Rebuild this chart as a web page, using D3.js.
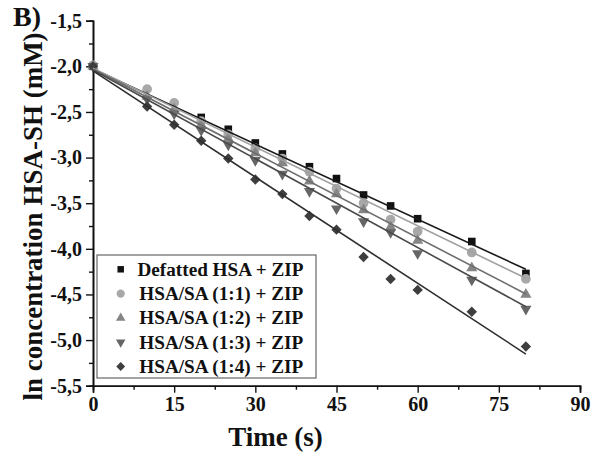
<!DOCTYPE html>
<html>
<head>
<meta charset="utf-8">
<script src="https://cdn.jsdelivr.net/npm/d3@7"></script>
<style>
  html, body { margin: 0; padding: 0; background: #fff; }
  svg text { font-family: "Liberation Serif", "Times New Roman", serif; font-weight: bold; fill: #111; }
</style>
</head>
<body>
<svg id="chart" width="605" height="456"></svg>
<script>
// Time points (s) for each series
const timeFull = [0, 10, 15, 20, 25, 30, 35, 40, 45, 50, 55, 60, 70, 80];
const timeDefatted = [0, 20, 25, 30, 35, 40, 45, 50, 55, 60, 70, 80];

// ln concentration of HSA-SH (mM)
const defattedHSA = [-2.00, -2.56, -2.69, -2.84, -2.96, -3.10, -3.23, -3.41, -3.53, -3.67, -3.92, -4.27];
const ratio11 = [-1.99, -2.25, -2.40, -2.60, -2.745, -2.90, -3.01, -3.155, -3.34, -3.50, -3.68, -3.81, -4.04, -4.33];
const ratio12 = [-2.00, -2.33, -2.47, -2.64, -2.79, -2.95, -3.06, -3.26, -3.40, -3.575, -3.76, -3.91, -4.21, -4.50];
const ratio13 = [-2.00, -2.36, -2.52, -2.70, -2.86, -3.03, -3.18, -3.37, -3.56, -3.70, -3.82, -4.05, -4.34, -4.66];
const ratio14 = [-2.00, -2.44, -2.64, -2.815, -3.01, -3.24, -3.40, -3.64, -3.79, -4.09, -4.33, -4.45, -4.69, -5.07];

// Linear fits: ln C = intercept + slope * t
const fitIntercept = [-2.03, -2.02, -2.03, -2.04, -2.05];
const fitSlope = [-0.02743, -0.02879, -0.03081, -0.03243, -0.03879];
const fitRange = [0, 80];

const seriesNames = [
  "Defatted HSA + ZIP",
  "HSA/SA (1:1) + ZIP",
  "HSA/SA (1:2) + ZIP",
  "HSA/SA (1:3) + ZIP",
  "HSA/SA (1:4) + ZIP"
];

const xTicks = [0, 15, 30, 45, 60, 75, 90];
const yTicks = [-1.5, -2.0, -2.5, -3.0, -3.5, -4.0, -4.5, -5.0, -5.5];

// Styling per series
const markerShape = ["square", "circle", "triangle", "triangleDown", "diamond"];
const markerFill = ["#111111", "#a8a8a8", "#858585", "#666666", "#3e3e3e"];
const lineColor = ["#1a1a1a", "#a0a0a0", "#6e6e6e", "#4a4a4a", "#2e2e2e"];

const series = [
  { t: timeDefatted, v: defattedHSA },
  { t: timeFull, v: ratio11 },
  { t: timeFull, v: ratio12 },
  { t: timeFull, v: ratio13 },
  { t: timeFull, v: ratio14 }
].map((s, i) => ({
  name: seriesNames[i],
  points: s.t.map((t, j) => ({ t, v: s.v[j] })),
  shape: markerShape[i],
  fill: markerFill[i],
  line: lineColor[i],
  a: fitIntercept[i],
  b: fitSlope[i]
}));

const svg = d3.select("#chart");
const plotLeft = 93, plotRight = 580, plotTop = 20.7, plotBottom = 385.7;

const x = d3.scaleLinear().domain([0, 90]).range([plotLeft, plotRight]);
const y = d3.scaleLinear().domain([-1.5, -5.5]).range([plotTop, plotBottom]);

function symbolPath(shape, scale) {
  const k = scale || 1;
  switch (shape) {
    case "square": return { d: d3.symbol(d3.symbolSquare, 58 * k * k)(), rot: 0 };
    case "circle": return { d: d3.symbol(d3.symbolCircle, 74 * k * k)(), rot: 0 };
    case "triangle": return { d: d3.symbol(d3.symbolTriangle, 54 * k * k)(), rot: 0 };
    case "triangleDown": return { d: d3.symbol(d3.symbolTriangle, 54 * k * k)(), rot: 180 };
    case "diamond": return { d: d3.symbol(d3.symbolSquare, 54 * k * k)(), rot: 45 };
  }
}

// Axes
const xAxis = d3.axisBottom(x).tickValues(xTicks).tickSize(7).tickPadding(4).tickFormat(d3.format("d"));
const xMinor = d3.axisBottom(x).tickValues(d3.range(7.5, 90, 15)).tickSize(4).tickFormat("");
const yAxis = d3.axisLeft(y).tickValues(yTicks).tickSize(7).tickPadding(4)
  .tickFormat(d => d3.format(".1f")(d).replace(".", ",").replace("−", "-"));
const yMinor = d3.axisLeft(y).tickValues(d3.range(-1.75, -5.5, -0.5)).tickSize(4).tickFormat("");

function styleAxis(g) {
  g.select(".domain").attr("stroke", "#111").attr("stroke-width", 1.6);
  g.selectAll(".tick line").attr("stroke", "#111").attr("stroke-width", 1.4);
  g.selectAll(".tick text").attr("font-size", 20).attr("font-family", "Liberation Serif, serif")
    .attr("font-weight", "bold").attr("fill", "#111");
}

svg.append("g").attr("transform", `translate(0,${plotBottom})`).call(xMinor).call(styleAxis);
svg.append("g").attr("transform", `translate(0,${plotBottom})`).call(xAxis).call(styleAxis);
svg.append("g").attr("transform", `translate(${plotLeft},0)`).call(yMinor).call(styleAxis);
svg.append("g").attr("transform", `translate(${plotLeft},0)`).call(yAxis).call(styleAxis);

// Markers
series.forEach(s => {
  const sym = symbolPath(s.shape, 1);
  svg.append("g").selectAll("path").data(s.points).join("path")
    .attr("d", sym.d)
    .attr("transform", d => `translate(${x(d.t)},${y(d.v)}) rotate(${sym.rot})`)
    .attr("fill", s.fill);
});

// Fitted lines
series.forEach(s => {
  svg.append("line")
    .attr("x1", x(fitRange[0])).attr("y1", y(s.a + s.b * fitRange[0]))
    .attr("x2", x(fitRange[1])).attr("y2", y(s.a + s.b * fitRange[1]))
    .attr("stroke", s.line).attr("stroke-width", 1.6);
});

// Legend
const legend = svg.append("g").attr("transform", "translate(97,255)");
legend.append("rect").attr("width", 219).attr("height", 123)
  .attr("fill", "#fff").attr("stroke", "#666").attr("stroke-width", 1.2);
series.forEach((s, i) => {
  const row = legend.append("g").attr("transform", `translate(0,${14.3 + i * 24.3})`);
  const sym = symbolPath(s.shape, 0.85);
  row.append("path").attr("d", sym.d)
    .attr("transform", `translate(23.7,0) rotate(${sym.rot})`).attr("fill", s.fill);
  row.append("text").attr("x", i === 0 ? 40.5 : 42.3).attr("y", 0).attr("dy", "0.33em")
    .attr("font-size", 19.2).text(s.name);
});

// Axis titles
svg.append("text").attr("x", 275.5).attr("y", 446).attr("text-anchor", "middle")
  .attr("font-size", 27).text("Time (s)");
svg.append("text").attr("transform", "translate(42,216.5) rotate(-90)").attr("text-anchor", "middle")
  .attr("font-size", 27).text("ln concentration HSA-SH (mM)");

// Panel label
svg.append("text").attr("x", 13).attr("y", 25.5).attr("font-size", 28).text("B)");
</script>
</body>
</html>
